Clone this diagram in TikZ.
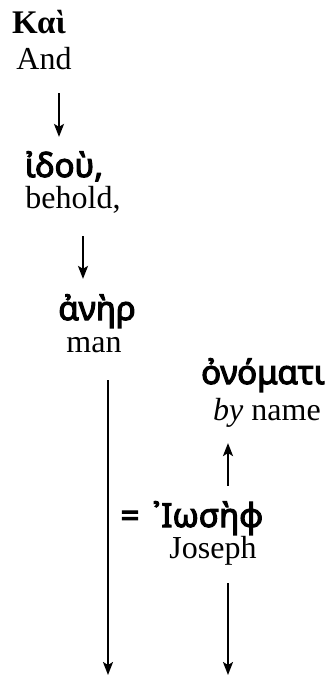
\documentclass[tikz,border=0pt]{standalone}
\usepackage{fontspec}
\setmainfont{Liberation Serif}
\newfontfamily\grkfont{Noto Sans}[BoldFont={Noto Sans}, BoldFeatures={FakeBold=3.5}]
\usetikzlibrary{arrows.meta}
\begin{document}
\begin{tikzpicture}[x=0.5pt,y=-0.5pt]
    \tikzstyle{line} = [->,>={Stealth[length=6.5pt,width=5pt,inset=1.5pt]}, line width=1pt]
    \tikzstyle{grk} = [anchor=base, inner sep=0pt, font=\fontsize{16.5}{19}\selectfont\grkfont\bfseries]
    \tikzstyle{gloss} = [inner sep=0pt, font=\fontsize{16}{19}\selectfont]

    \useasboundingbox (0,0) rectangle (330,677);
    \coordinate (floor) at (0,675);

    \node(kai) [grk, font=\fontsize{16.5}{19}\selectfont\bfseries] at (39,33) {Καὶ};
    \node(and) [gloss, below of=kai, node distance=18.5pt, xshift=2.5pt] {And};
    \node(idou) [grk] at (64,177) {ἰδοὺ,};
    \node(behold) [gloss, below of=idou, node distance=17pt, xshift=4.5pt] {behold,};
    \node(aner) [grk] at (97,320) {ἀνὴρ};
    \node(man) [gloss, below of=aner, node distance=17pt, xshift=-1.5pt] {man};
    \node(onomati) [grk] at (263,384) {ὀνόματι};
    \node(byname) [gloss, below of=onomati, node distance=19pt, xshift=2pt] {\textit{by} name};
    \node(eq) [grk] at (130,527) {=};
    \node(iosef) [grk] at (208,527) {᾿Ιωσὴφ};
    \node(joseph) [gloss, below of=iosef, node distance=16.5pt, xshift=2.5pt] {Joseph};

    \draw[line, shorten <=11.5pt, shorten >=7pt] ([xshift=7.5pt]and.south) -- ([xshift=7.5pt]and.south |- idou.north);
    \draw[line, shorten <=11pt, shorten >=7.5pt] ([xshift=5pt]behold.south) -- ([xshift=5pt]behold.south |- aner.north);
    \draw[line, shorten <=13.5pt] ([xshift=7pt]man.south) -- ([xshift=7pt]man.south |- floor);
    \draw[line, shorten <=7.5pt, shorten >=7.5pt] ([xshift=7.5pt]joseph.center |- iosef.north) -- ([xshift=7.5pt]joseph.center |- byname.south);
    \draw[line, shorten <=8.5pt] ([xshift=7.5pt]joseph.south) -- ([xshift=7.5pt]joseph.south |- floor);
\end{tikzpicture}
\end{document}
